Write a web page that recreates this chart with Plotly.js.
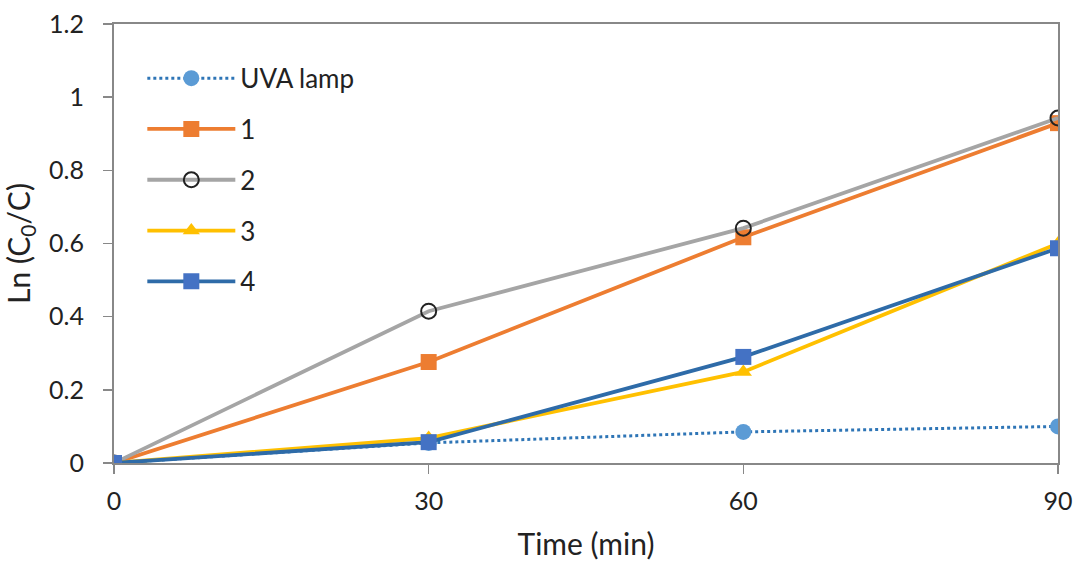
<!DOCTYPE html>
<html>
<head>
<meta charset="utf-8">
<script src="https://cdn.plot.ly/plotly-3.0.1.min.js"></script>
<style>html,body{margin:0;padding:0;background:#fff;}#chart{width:1076px;height:561px;}</style>
</head>
<body>
<div id="chart"></div>
<script>
const time = [0, 30, 60, 90];
const seriesNames = ["UVA lamp", "1", "2", "3", "4"];
const uvaLamp = [0, 0.055, 0.085, 0.10];
const s1 = [0, 0.276, 0.617, 0.929];
const s2 = [0, 0.415, 0.642, 0.943];
const s3 = [0, 0.068, 0.249, 0.600];
const s4 = [0, 0.057, 0.290, 0.587];
const xTicks = [0, 30, 60, 90];
const yTicks = [0, 0.2, 0.4, 0.6, 0.8, 1, 1.2];
const yTickText = ["0", "0.2", "0.4", "0.6", "0.8", "1", "1.2"];

const FONT = "Lato, 'Open Sans', sans-serif";

const traces = [
  {x: time, y: uvaLamp, name: seriesNames[0], legendgroup: "g0", mode: "lines+markers",
   line: {color: "#2E75B6", width: 3, dash: "dot"},
   marker: {symbol: "circle", size: 16, color: "#5B9BD5"}},
  {x: time, y: s1, name: seriesNames[1], legendgroup: "g1", mode: "lines+markers",
   line: {color: "#ED7D31", width: 3.8},
   marker: {symbol: "square", size: 16, color: "#ED7D31"}},
  {x: time, y: s2, name: seriesNames[2], legendgroup: "g2", mode: "lines+markers",
   line: {color: "#A5A5A5", width: 3.8},
   marker: {symbol: "circle-open", size: 15, color: "#222222", line: {width: 2, color: "#222222"}}},
  {x: time, y: s3, name: seriesNames[3], legendgroup: "g3", mode: "lines+markers",
   line: {color: "#FFC000", width: 3.8},
   marker: {symbol: "triangle-up", size: 15, color: "#FFC000"}},
  {x: time, y: s4, name: seriesNames[4], legendgroup: "g4", mode: "lines+markers",
   line: {color: "#2E6BA8", width: 3.8},
   marker: {symbol: "square", size: 16, color: "#4472C4"}}
];

const layout = {
  width: 1076, height: 561,
  margin: {l: 114, r: 18, t: 24, b: 98},
  paper_bgcolor: "#fff", plot_bgcolor: "#fff",
  font: {family: FONT, size: 25, color: "#222"},
  showlegend: true,
  legend: {x: 0.03, y: 0.93, xanchor: "left", yanchor: "top",
           font: {family: FONT, size: 26, color: "#222"},
           bgcolor: "rgba(255,255,255,0)", tracegroupgap: 14, itemwidth: 88,
           traceorder: "grouped"},
  xaxis: {range: [0, 90], tickvals: xTicks, ticktext: xTicks.map(String),
          showgrid: false, zeroline: false, showline: true, linecolor: "#888", linewidth: 2,
          mirror: true, ticks: "outside", ticklen: 9, tickcolor: "#888", tickwidth: 1.5,
          ticklabelstandoff: 6,
          tickfont: {family: FONT, size: 25, color: "#222"},
          title: {text: "Time (min)", font: {family: FONT, size: 30, color: "#222"}, standoff: 20}},
  yaxis: {range: [0, 1.2], tickvals: yTicks, ticktext: yTickText,
          showgrid: false, zeroline: false, showline: true, linecolor: "#888", linewidth: 2,
          mirror: true, ticks: "outside", ticklen: 9, tickcolor: "#888", tickwidth: 1.5,
          ticklabelstandoff: 14,
          tickfont: {family: FONT, size: 25, color: "#222"},
          title: {text: "Ln (C<sub>0</sub>/C)", font: {family: FONT, size: 30, color: "#222"}, standoff: 10}}
};

Plotly.newPlot("chart", traces, layout, {displayModeBar: false, staticPlot: true});
</script>
</body>
</html>
